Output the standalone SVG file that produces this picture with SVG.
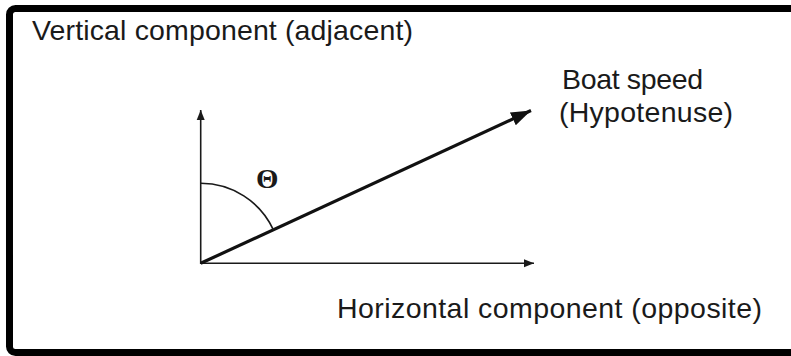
<svg xmlns="http://www.w3.org/2000/svg" width="791" height="356" viewBox="0 0 791 356">
<style>
.lbl{font-family:"Liberation Sans",Arial,sans-serif;font-size:28.5px;fill:#1a1a1a}
.ax{stroke:#1a1a1a;stroke-width:1.6;fill:none}
.main{stroke:#111;stroke-width:3.2;fill:none}
</style>
<defs>
<marker id="ah" viewBox="0 0 10 10" refX="10" refY="5" markerWidth="10" markerHeight="10" markerUnits="userSpaceOnUse" orient="auto"><path d="M0,1 L10,5 L0,9 Z" fill="#1a1a1a"/></marker>
<marker id="ahb" viewBox="0 0 10 10" refX="10" refY="5" markerWidth="20" markerHeight="20" markerUnits="userSpaceOnUse" orient="auto"><path d="M0,1.5 L10,5 L0,8.5 Z" fill="#111"/></marker>
</defs>
<rect width="791" height="356" fill="#fff"/>
<rect x="9.5" y="8.5" width="800" height="344" rx="6" fill="none" stroke="#000" stroke-width="7"/>
<g id="connectors">
<line class="ax" x1="200.7" y1="264" x2="200.7" y2="110" marker-end="url(#ah)"/>
<line class="ax" x1="200" y1="263.3" x2="534" y2="263.3" marker-end="url(#ah)"/>
<line class="main" x1="200.7" y1="263.3" x2="531" y2="110.5" marker-end="url(#ahb)"/>
<path class="ax" d="M200.7,183.3 A80,80 0 0 1 273.3,229.7"/>
</g>
<g id="theta"><text x="256" y="188" textLength="22.5" lengthAdjust="spacingAndGlyphs" style="font-family:'Liberation Serif','Times New Roman',serif;font-weight:bold;font-size:27px;fill:#1a1a1a">Θ</text></g>
<g id="vertical"><text class="lbl" x="32" y="40" textLength="381">Vertical component (adjacent)</text></g>
<g id="horizontal"><text class="lbl" x="337" y="318" textLength="425">Horizontal component (opposite)</text></g>
<g id="boat"><text class="lbl" x="562" y="89" textLength="141">Boat speed</text><text class="lbl" x="559" y="122" textLength="174">(Hypotenuse)</text></g>
</svg>
